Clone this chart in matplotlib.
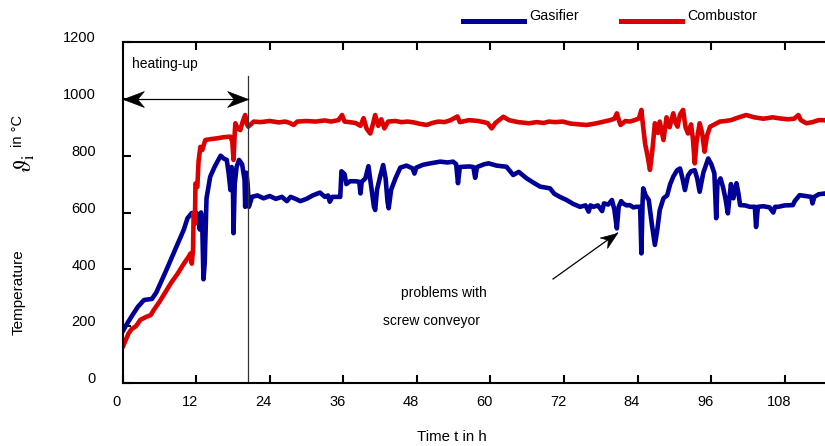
import numpy as np
import matplotlib
matplotlib.use('Agg')
from matplotlib import pyplot as plt
from matplotlib.lines import Line2D
from matplotlib.markers import MarkerStyle
from matplotlib.path import Path
from matplotlib.transforms import Affine2D, ScaledTranslation

plt.rcParams['font.family'] = ['Liberation Sans', 'DejaVu Sans']
plt.rcParams['mathtext.fontset'] = 'stix'

# time in h / temperature in degC
gas_t = [0, 0.5, 1.5, 2.5, 3.5, 4.8, 5.5, 7, 8.5, 10, 10.6, 11.3, 12, 12.4, 12.6, 12.8, 13, 13.2, 13.4,
         13.7, 14.3, 15, 16, 16.5, 17, 17.3, 17.6, 17.8, 18.0, 18.1, 18.3, 18.6, 19, 19.5, 19.9, 20.0,
         20.2, 20.4, 20.6, 20.9, 21.1, 22, 23, 24, 25, 26, 26.8, 27.4, 28, 29, 30, 31, 32.2, 33, 33.5,
         33.8, 34.2, 35.5, 35.7, 36.2, 36.5, 37.1, 38, 38.6, 38.8, 39, 39.6, 40.1, 40.5, 41.0, 41.2,
         41.5, 42.0, 42.5, 42.9, 43.2, 43.4, 43.8, 44.5, 45.3, 46.3, 47.3, 47.6, 47.9, 49, 50.2, 51.8,
         53, 53.9, 54.4, 54.7, 55.0, 55.6, 56.6, 57.2, 57.5, 57.8, 59, 59.7, 61, 62.6, 63.7, 64.6, 65.9,
         67, 68.1, 69.7, 70.4, 71.3, 72.4, 73.5, 74.6, 75.5, 76, 76.3, 76.8, 77.5, 78.2, 78.5, 79.2,
         79.8, 80.2, 80.6, 80.9, 81.3, 81.6, 82.2, 82.7, 83.3, 83.8, 84.4, 84.6, 84.8, 84.9, 85.3, 85.8,
         86.3, 86.8, 87.2, 87.6, 88.2, 88.8, 89.3, 89.8, 90.4, 90.9, 91.3, 91.7, 92.2, 92.7, 93.3, 93.7,
         94.1, 94.7, 95.5, 96.0, 96.5, 96.8, 97.0, 97.5, 97.9, 98.3, 98.7, 99.0, 99.2, 99.6, 100.1,
         100.4, 100.7, 101.5, 102.3, 103.1, 103.3, 103.6, 104.5, 105.5, 106.1, 106.4, 106.9, 108,
         109.3, 109.6, 110.4, 111.3, 112.3, 112.5, 112.8, 113.5, 114.5, 115]
gas_T = [180, 200, 235, 268, 292, 296, 318, 390, 465, 540, 580, 598, 600, 590, 540, 600, 560, 365, 420,
         650, 726, 760, 800, 790, 785, 740, 679, 760, 700, 527, 700, 760, 785, 770, 715, 620,
         740, 700, 620, 640, 655, 660, 650, 658, 648, 655, 640, 655, 650, 640, 648, 660, 670, 655, 660,
         638, 655, 655, 745, 735, 700, 710, 710, 708, 667, 708, 720, 763, 700, 620, 609,
         680, 726, 767, 720, 640, 615, 680, 720, 758, 765, 755, 737, 758, 768, 773, 779,
         776, 779, 770, 703, 760, 761, 762, 760, 722, 760, 770, 773, 765, 761, 732, 743, 720,
         705, 691, 685, 666, 655, 644, 630, 620, 625, 603, 625, 620, 625, 605, 632, 628,
         644, 610, 544, 620, 640, 632, 625, 626, 618, 620, 620, 456, 640, 685, 660, 644,
         560, 486, 540, 609, 650, 660, 700, 726, 748, 755, 720, 679, 730, 745, 749, 720,
         673, 740, 790, 770, 738, 580, 700, 720, 690, 650, 597, 660, 700, 650, 703,
         670, 626, 625, 620, 620, 549, 620, 622, 618, 600, 620, 620, 625,
         626, 640, 661, 658, 655, 632, 655, 664, 667, 660]

comb_t = [0, 0.5, 1, 1.5, 2.2, 2.9, 3.8, 4.6, 5.1, 6, 7, 8, 9, 10, 10.8, 11.1, 11.3, 11.5, 11.6, 11.8,
          11.9, 12.2, 12.4, 12.7, 13.0, 13.5, 14.3, 15.4, 16.5, 17.6, 17.9, 18.1, 18.3, 18.4, 18.8,
          19.2, 19.6, 20, 20.3, 20.5, 21, 21.4, 22.5, 24, 25.5, 26.5, 27.3, 27.9, 28.5, 30, 31.5, 33,
          34, 35.2, 35.8, 36.2, 37, 38, 38.8, 39.3, 39.8, 40.4, 40.7, 41.2, 41.7, 42.2, 42.7, 43.3,
          44.5, 45.5, 46.5, 47.5, 48.5, 49.6, 50.5, 51.5, 52.5, 53.5, 54.6, 55.0, 56.5, 58, 59.5,
          60.2, 60.8, 62.1, 63, 64.5, 66.3, 67.5, 68.7, 69.5, 70.5, 71.8, 73, 74.5, 75.7, 77.3, 78.5,
          79.5, 80.2, 80.6, 81.0, 81.2, 82, 82.7, 83.5, 84.2, 84.6, 84.9, 85.2, 85.6, 86, 86.4, 86.8,
          87.3, 87.6, 88.2, 88.7, 89.2, 89.8, 90.2, 90.5, 90.9, 91.4, 91.8, 92.2, 92.7, 93.0, 93.3,
          93.6, 94.1, 94.5, 94.9, 95.3, 95.8, 96.5, 97.4, 98.3, 99.2, 100.5, 101.7, 103, 104.5, 106,
          107.2, 108.5, 109.5, 110.2, 110.6, 111.5, 112.5, 113.5, 114.5, 115]
comb_T = [125, 150, 175, 190, 200, 222, 232, 239, 257, 285, 320, 355, 385, 420, 445, 456, 420, 470, 598, 560,
          702, 690, 780, 831, 820, 855, 858, 861, 865, 867, 850, 785, 880, 914, 895,
          890, 920, 943, 910, 902, 912, 920, 918, 922, 917, 920, 915, 908, 920, 922, 920, 924,
          920, 925, 943, 920, 918, 915, 905, 932, 895, 878, 900, 943, 905, 928, 896, 920,
          922, 918, 920, 917, 912, 908, 915, 920, 918, 925, 938, 918, 925, 922, 915,
          896, 915, 937, 925, 918, 914, 918, 915, 920, 918, 920, 913, 910, 908, 914, 920,
          925, 930, 949, 920, 908, 922, 920, 925, 931, 961, 900, 843, 800, 750, 820, 914,
          880, 920, 855, 935, 900, 949, 915, 902, 945, 961, 900, 878, 910, 860, 773,
          850, 914, 880, 814, 870, 902, 910, 920, 922, 925, 935, 943, 935, 930, 935,
          931, 928, 930, 943, 925, 914, 918, 925, 925, 920]

x_ticks = [0, 12, 24, 36, 48, 60, 72, 84, 96, 108]
y_ticks = [0, 200, 400, 600, 800, 1000, 1200]

heat_end = 20.5     # end of heating-up phase in h

BLUE = '#000096'
RED = '#dc0000'

fig = plt.figure(figsize=(8.25, 4.46), dpi=100)
ax = fig.add_axes([122.5 / 825, 63 / 446, 736 / 825, 341 / 446])

ax.plot(gas_t, gas_T, color=BLUE, lw=3.3, solid_joinstyle='round', solid_capstyle='round')
ax.plot(comb_t, comb_T, color=RED, lw=3.3, solid_joinstyle='round', solid_capstyle='round')

ax.set_xlim(0, 120)
ax.set_ylim(0, 1200)
ax.set_xticks(x_ticks)
ax.set_yticks(y_ticks)
ax.spines['right'].set_visible(False)
for s in ['left', 'bottom', 'top']:
    ax.spines[s].set_linewidth(1.5)
ax.tick_params(axis='x', direction='in', length=6, width=1.5, top=True, pad=8.5, labelsize=10.5)
ax.tick_params(axis='y', direction='in', length=6, width=1.5, pad=19, labelsize=10.5)

# labels sit a little left / above their ticks
for lab in ax.get_xticklabels():
    lab.set_transform(lab.get_transform() + ScaledTranslation(-4.3 / 72, 0, fig.dpi_scale_trans))
for lab in ax.get_yticklabels():
    lab.set_transform(lab.get_transform() + ScaledTranslation(0, 3.8 / 72, fig.dpi_scale_trans))

ax.set_xlabel('Time t in h', fontsize=10.8)
ax.xaxis.set_label_coords(452 / 825, 0, transform=fig.transFigure)
ax.xaxis.label.set_va('center')
ax.xaxis.label.set_position((452 / 825, 1 - 437 / 446))

fig.text(19 / 825, 1 - 292 / 446, 'Temperature', rotation=90, fontsize=11,
         ha='center', va='center')
fig.text(25 / 825, 1 - 163 / 446, r'$\vartheta_{\mathrm{i}}$', rotation=90, fontsize=17,
         ha='center', va='center')
fig.text(18 / 825, 1 - 131 / 446, 'in °C', rotation=90, fontsize=10.5, ha='center', va='center')

# concave arrow head pointing along +x, tip at origin
head = Path([(0, 0), (-1, 0.38), (-0.68, 0), (-1, -0.38), (0, 0)],
            [Path.MOVETO, Path.LINETO, Path.LINETO, Path.LINETO, Path.CLOSEPOLY])


def arrow_head(x, y, angle, size):
    m = MarkerStyle(head, transform=Affine2D().rotate_deg(angle))
    ax.plot([x], [y], marker=m, ms=size, color='black', mec='black', mew=0.5, clip_on=False)


# heating-up period
ax.plot([heat_end, heat_end], [0, 1080], color='#333333', lw=0.9)
ax.plot([0, heat_end], [1000, 1000], color='black', lw=0.9, clip_on=False)
arrow_head(0, 1000, 180, 30)
arrow_head(heat_end, 1000, 0, 30)
ax.text(1.55, 1122, 'heating-up', fontsize=10, va='center', ha='left')

# screw conveyor remark
p0 = (70.2, 366)
p1 = (80.7, 528)
ax.plot([p0[0], p1[0]], [p0[1], p1[1]], color='black', lw=0.9)
d0 = ax.transData.transform(p0)
d1 = ax.transData.transform(p1)
ang = np.degrees(np.arctan2(d1[1] - d0[1], d1[0] - d0[0]))
arrow_head(p1[0], p1[1], ang, 24)
ax.text(45.4, 317, 'problems with', fontsize=10, va='center', ha='left')
ax.text(42.5, 218, 'screw conveyor', fontsize=10, va='center', ha='left')

# legend drawn across the top
ly = 1 - 20.5 / 446
fig.add_artist(Line2D([463 / 825, 524 / 825], [ly, ly], color=BLUE, lw=3.6, transform=fig.transFigure))
fig.text(529 / 825, 1 - 15.5 / 446, 'Gasifier', fontsize=10.3, va='center', ha='left')
fig.add_artist(Line2D([621 / 825, 682 / 825], [ly, ly], color=RED, lw=3.6, transform=fig.transFigure))
fig.text(687 / 825, 1 - 15.5 / 446, 'Combustor', fontsize=10.3, va='center', ha='left')

fig.savefig('out.png', dpi=100)
